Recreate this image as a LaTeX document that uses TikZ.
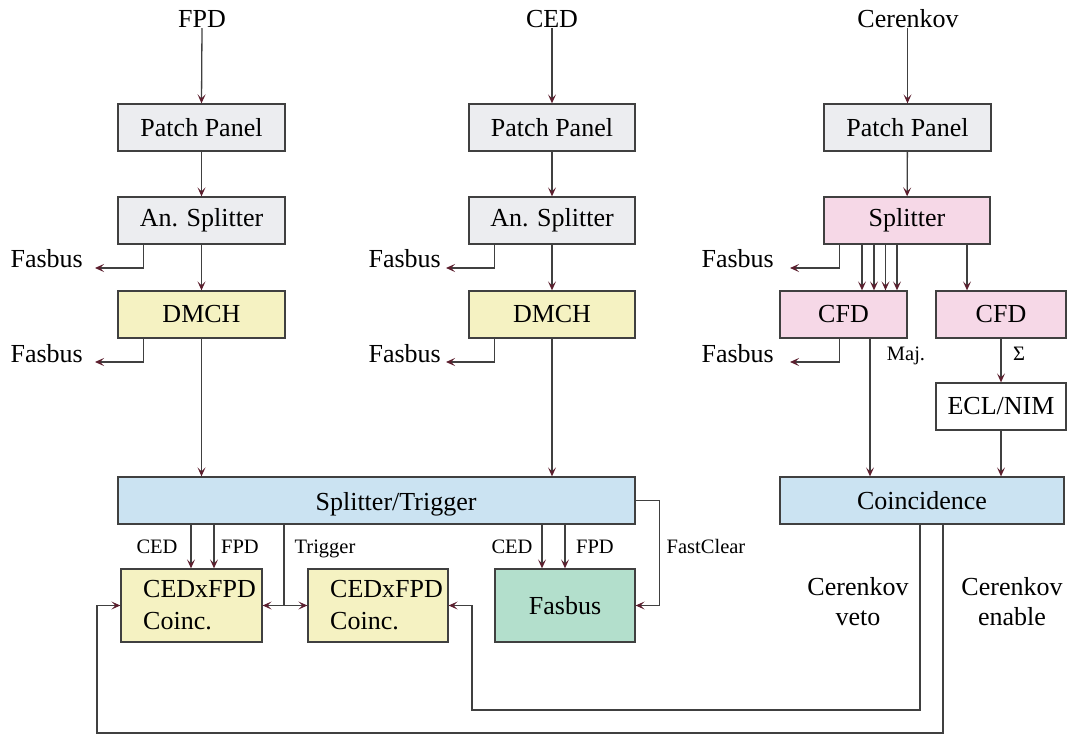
\documentclass[tikz,border=0pt]{standalone}
\usepackage{fontspec}
\setmainfont{Liberation Serif}
\usetikzlibrary{arrows.meta}
\definecolor{boxgray}{HTML}{ECEDF0}
\definecolor{boxyellow}{HTML}{F5F2C2}
\definecolor{boxpink}{HTML}{F6D8E7}
\definecolor{boxblue}{HTML}{CBE3F2}
\definecolor{boxgreen}{HTML}{B3DFCC}
\definecolor{linegray}{HTML}{404040}
\definecolor{tipred}{HTML}{5C1F2E}
\tikzset{
  blk/.style={draw=linegray, line width=1.3pt, inner sep=0pt, minimum height=47pt,
    font=\fontsize{26}{30}\selectfont, align=center},
  gray/.style={blk, fill=boxgray},
  yel/.style={blk, fill=boxyellow},
  pnk/.style={blk, fill=boxpink},
  blu/.style={blk, fill=boxblue},
  grn/.style={blk, fill=boxgreen},
  big/.style={font=\fontsize{26}{30}\selectfont, inner sep=0pt},
  lab/.style={font=\fontsize{20.5}{24}\selectfont, inner sep=0pt},
  conn/.style={draw=linegray, line width=1.3pt},
  arr/.style={conn, -{Stealth[length=9pt, width=8pt, inset=4pt, color=tipred]}},
}
\begin{document}
\begin{tikzpicture}[x=1pt, y=-1pt]
\useasboundingbox (0,0) rectangle (1068,735);

% ---- column labels
\node[big, anchor=base] (fpd) at (202,28) {FPD};
\node[big, anchor=base] (ced) at (552,28) {CED};
\node[big, anchor=base] (cer) at (908,28) {Cerenkov};

% ---- left column
\node[gray, minimum width=167pt] (pp1) at (201.5,127.5) {Patch Panel};
\node[gray, minimum width=167pt] (as1) at (201.5,220.5) {An. Splitter};
\node[yel, minimum width=167pt] (dm1) at (201.5,314.5) {DMCH};

% ---- middle column
\node[gray, minimum width=166pt] (pp2) at (552,127.5) {Patch Panel};
\node[gray, minimum width=166pt] (as2) at (552,220.5) {An. Splitter};
\node[yel, minimum width=166pt] (dm2) at (552,314.5) {DMCH};

% ---- right column
\node[gray, minimum width=167pt] (pp3) at (907.5,127.5) {Patch Panel};
\node[pnk, minimum width=166pt] (spl) at (907,220.5) {Splitter};
\node[pnk, minimum width=127pt] (cf1) at (843.5,314.5) {CFD};
\node[pnk, minimum width=130pt] (cf2) at (1001,314.5) {CFD};
\node[blk, fill=white, minimum width=130pt] (ecl) at (1001,406.5) {ECL/NIM};
\node[blu, minimum width=284pt] (coin) at (922,500.5) {Coincidence};

% ---- trigger area
\node[blu, minimum width=517pt] (st) at (376.5,500.5) {};
\node[big, anchor=base] (sttxt) at (396,510) {Splitter/Trigger};
\node[yel, minimum width=141pt, minimum height=73pt] (cx1) at (191.5,605.5) {};
\node[yel, minimum width=140pt, minimum height=73pt] (cx2) at (378,605.5) {};
\node[grn, minimum width=140pt, minimum height=73pt] (fbx) at (565,605.5) {Fasbus};
\node[big, anchor=base west, align=left] (cx1t) at (143,597) {CEDxFPD};
\node[big, anchor=base west, align=left] (cx1b) at (143,629) {Coinc.};
\node[big, anchor=base west, align=left] (cx2t) at (330,597) {CEDxFPD};
\node[big, anchor=base west, align=left] (cx2b) at (330,629) {Coinc.};

% ---- Fasbus side labels
\node[big, anchor=base east] (fb1) at (83,268) {Fasbus};
\node[big, anchor=base east] (fb2) at (83,362) {Fasbus};
\node[big, anchor=base east] (fb3) at (441,268) {Fasbus};
\node[big, anchor=base east] (fb4) at (441,362) {Fasbus};
\node[big, anchor=base east] (fb5) at (774,268) {Fasbus};
\node[big, anchor=base east] (fb6) at (774,362) {Fasbus};
\coordinate (e1) at (95,268);
\coordinate (e2) at (95,362);
\coordinate (e3) at (446,268);
\coordinate (e4) at (446,362);
\coordinate (e5) at (790,268);
\coordinate (e6) at (790,362);

% ---- small labels
\node[lab, anchor=base] (l1) at (157,553) {CED};
\node[lab, anchor=base] (l2) at (240,553) {FPD};
\node[lab, anchor=base] (l3) at (325,553) {Trigger};
\node[lab, anchor=base] (l4) at (512,553) {CED};
\node[lab, anchor=base] (l5) at (595,553) {FPD};
\node[lab, anchor=base] (l6) at (706,553) {FastClear};
\node[lab, anchor=base] (l7) at (906,360) {Maj.};
\node[lab, anchor=base] (l8) at (1019,360) {Σ};

\node[big, align=center] (veto) at (858,602) {Cerenkov\\veto};
\node[big, align=center] (enab) at (1012,602) {Cerenkov\\enable};

% ---- connectors: top
\draw[arr] (fpd.south) -- (pp1.north);
\draw[arr] (ced.south) -- (pp2.north);
\draw[arr] (cer.south -| pp3.north) -- (pp3.north);
\draw[arr] (pp1) -- (as1);
\draw[arr] (as1) -- (dm1);
\draw[arr] (pp2) -- (as2);
\draw[arr] (as2) -- (dm2);
\draw[arr] (pp3) -- (spl);

% ---- Fasbus branches
\draw[arr] ([xshift=26pt]as1.south west) |- (e1);
\draw[arr] ([xshift=26pt]dm1.south west) |- (e2);
\draw[arr] ([xshift=26pt]as2.south west) |- (e3);
\draw[arr] ([xshift=26pt]dm2.south west) |- (e4);
\draw[arr] ([xshift=16pt]spl.south west) |- (e5);
\draw[arr] ([xshift=60pt]cf1.south west) |- (e6);

% ---- to Splitter/Trigger
\draw[arr] (dm1.south) -- (dm1.south |- st.north);
\draw[arr] (dm2.south) -- (dm2.south |- st.north);

% ---- Splitter/Trigger outputs
\draw[arr] ([xshift=-0.5pt]cx1.north |- st.south) -- ([xshift=-0.5pt]cx1.north);
\draw[arr] ([xshift=22.5pt]cx1.north |- st.south) -- ([xshift=22.5pt]cx1.north);
\draw[arr] ([xshift=-23pt]fbx.north |- st.south) -- ([xshift=-23pt]fbx.north);
\draw[arr] (fbx.north |- st.south) -- (fbx.north);
\coordinate (trg) at (284,605.5);
\draw[conn] (trg |- st.south) -- (trg);
\draw[arr] (trg) -- (cx1.east);
\draw[arr] (trg) -- (cx2.west);
\draw[arr] (st.east) -- ++(24,0) |- (fbx.east);

% ---- right side
\foreach \dx in {18.5,30.5,42,53.5}
  \draw[arr] ([xshift=\dx pt]cf1.north |- spl.south) -- ([xshift=\dx pt]cf1.north);
\draw[arr] ([xshift=-34pt]cf2.north |- spl.south) -- ([xshift=-34pt]cf2.north);
\draw[arr] ([xshift=26.5pt]cf1.south) -- ([xshift=26.5pt]cf1.south |- coin.north);
\draw[arr] (cf2) -- (ecl);
\draw[arr] (ecl.south) -- (ecl.south |- coin.north);

% ---- feedback loops
\coordinate (v1) at (920,710);
\coordinate (v2) at (472,710);
\coordinate (n1) at (943,733);
\coordinate (n2) at (97,733);
\draw[arr] (v1 |- coin.south) -- (v1) -- (v2) |- (cx2.east);
\draw[arr] (n1 |- coin.south) -- (n1) -- (n2) |- (cx1.west);
\end{tikzpicture}
\end{document}
